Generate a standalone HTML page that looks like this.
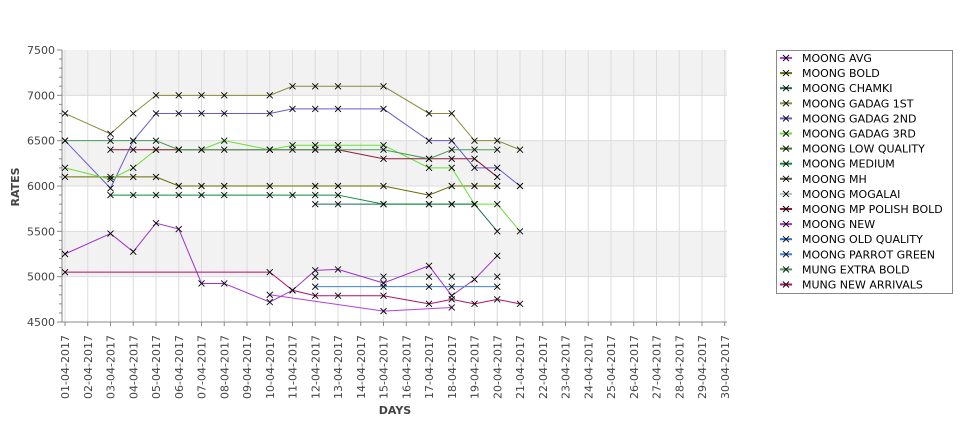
<!DOCTYPE html>
<html><head><meta charset="utf-8"><style>
html,body{margin:0;padding:0;background:#fff;}
svg{display:block;font-family:"DejaVu Sans","Liberation Sans",sans-serif;}
</style></head><body>
<svg id="c" width="975" height="429" xmlns="http://www.w3.org/2000/svg"></svg>
<script>
const s=document.getElementById('c');
const X=d=>65+(d-1)*22.75, Y=v=>50+(7500-v)*272/3000;
let h='';
// bands
h+=`<rect x="62" y="${Y(7500)}" width="665" height="${Y(7000)-Y(7500)}" fill="#f2f2f2"/>`;
h+=`<rect x="62" y="${Y(6500)}" width="665" height="${Y(6000)-Y(6500)}" fill="#f2f2f2"/>`;
h+=`<rect x="62" y="${Y(5500)}" width="665" height="${Y(5000)-Y(5500)}" fill="#f2f2f2"/>`;
for(const v of [7000,6500,6000,5500,5000]) h+=`<line x1="62" x2="727" y1="${Y(v)}" y2="${Y(v)}" stroke="#dcdcdc"/>`;
for(let d=1;d<=30;d++) h+=`<line x1="${X(d)}" x2="${X(d)}" y1="50" y2="322" stroke="#dcdcdc"/>`;
// axes
h+=`<line x1="62" x2="62" y1="50" y2="322" stroke="#888"/><line x1="62" x2="727" y1="322" y2="322" stroke="#888"/>`;
for(let v=4500;v<=7500;v+=100){const y=Y(v);h+=`<line x1="${v%500?59:57}" x2="62" y1="${y}" y2="${y}" stroke="#888"/>`;}
for(const v of [4500,5000,5500,6000,6500,7000,7500]) h+=`<text x="55" y="${Y(v)+4}" font-size="11" fill="#444" text-anchor="end">${v}</text>`;
for(let d=1;d<=30;d++){const x=X(d);h+=`<line x1="${x}" x2="${x}" y1="322" y2="326" stroke="#888"/>`;
h+=`<text transform="translate(${x+4},335) rotate(-90)" font-size="11" fill="#444" text-anchor="end">${String(d).padStart(2,'0')}-04-2017</text>`;}
h+=`<text x="395" y="414" font-size="11" font-weight="bold" fill="#444" text-anchor="middle">DAYS</text>`;
h+=`<text transform="translate(19,187) rotate(-90)" font-size="11" font-weight="bold" fill="#444" text-anchor="middle">RATES</text>`;
const S=[
["#b040e0",[[10,4800],[15,4620],[18,4660]]],
["#6b6b00",[[1,6100],[3,6100],[4,6100],[5,6100],[6,6000],[7,6000],[8,6000],[10,6000],[12,6000],[13,6000],[15,6000],[17,5900],[18,6000],[19,6000],[20,6000]]],
["#1a6a5a",[[12,5800],[13,5800],[15,5800],[17,5800],[18,5800],[19,5800],[20,5500]]],
["#8b8b3a",[[1,6800],[3,6575],[4,6800],[5,7000],[6,7000],[7,7000],[8,7000],[10,7000],[11,7100],[12,7100],[13,7100],[15,7100],[17,6800],[18,6800],[19,6500],[20,6500],[21,6400]]],
["#6a5acd",[[1,6500],[3,5975],[4,6500],[5,6800],[6,6800],[7,6800],[8,6800],[10,6800],[11,6850],[12,6850],[13,6850],[15,6850],[17,6500],[18,6500],[19,6200],[20,6200],[21,6000]]],
["#66e033",[[1,6200],[3,6075],[4,6200],[5,6400],[6,6400],[7,6400],[8,6500],[10,6400],[11,6450],[12,6450],[13,6450],[15,6450],[17,6200],[18,6200],[19,5800],[20,5800],[21,5500]]],
["#0a8a3a",[[3,5900],[4,5900],[5,5900],[6,5900],[7,5900],[8,5900],[10,5900],[11,5900],[12,5900],[13,5900],[15,5800],[17,5800],[18,5800],[19,5800]]],
["#b0c8c0",[[12,5000],[15,5000],[17,5000],[18,5000],[20,5000]]],
["#8b1a3a",[[3,6400],[4,6400],[5,6400],[6,6400],[10,6400],[12,6400],[13,6400],[15,6300],[17,6300],[18,6300],[19,6300],[20,6100]]],
["#a030d0",[[1,5250],[3,5475],[4,5275],[5,5590],[6,5525],[7,4925],[8,4925],[10,4720],[11,4850],[12,5070],[13,5080],[15,4930],[17,5120],[18,4790],[19,4970],[20,5230]]],
["#3a80e0",[[12,4890],[15,4890],[17,4890],[18,4890],[20,4890]]],
["#4a9a5a",[[1,6500],[3,6500],[4,6500],[5,6500],[6,6400],[7,6400],[8,6400],[10,6400],[11,6400],[12,6400],[13,6400],[15,6400],[17,6300],[18,6400],[19,6400],[20,6400]]],
["#b0106a",[[1,5050],[10,5050],[11,4850],[12,4790],[13,4790],[15,4790],[17,4700],[18,4750],[19,4700],[20,4750],[21,4700]]]
];
const xm=(x,y)=>`<path d="M${x-3} ${y-3}L${x+3} ${y+3}M${x-3} ${y+3}L${x+3} ${y-3}" stroke="#000" stroke-width="0.9"/>`;
for(const [c,p] of S) h+=`<polyline fill="none" stroke="${c}" stroke-width="1" points="${p.map(q=>X(q[0])+','+Y(q[1])).join(' ')}"/>`;
for(const [c,p] of S) for(const q of p) h+=xm(X(q[0]),Y(q[1]));
// legend
h+=`<rect x="776.5" y="50.5" width="176" height="243" fill="#fff" stroke="#888"/>`;
const L=[["MOONG AVG","#b040e0"],["MOONG BOLD","#6b6b00"],["MOONG CHAMKI","#1a6a5a"],["MOONG GADAG 1ST","#8b8b3a"],["MOONG GADAG 2ND","#6a5acd"],["MOONG GADAG 3RD","#66e033"],["MOONG LOW QUALITY","#3a7a1a"],["MOONG MEDIUM","#0a8a3a"],["MOONG MH","#5a5a3a"],["MOONG MOGALAI","#b0c8c0"],["MOONG MP POLISH BOLD","#8b1a3a"],["MOONG NEW","#a030d0"],["MOONG OLD QUALITY","#2a70d0"],["MOONG PARROT GREEN","#3a80e0"],["MUNG EXTRA BOLD","#4a9a5a"],["MUNG NEW ARRIVALS","#b0106a"]];
L.forEach((l,i)=>{const y=58+i*15.1;h+=`<line x1="780" x2="792" y1="${y}" y2="${y}" stroke="${l[1]}" stroke-width="2"/>`+xm(786,y)+`<text x="802" y="${y+4}" font-size="11" fill="#000">${l[0]}</text>`;});
s.innerHTML=h;
</script>
</body></html>
